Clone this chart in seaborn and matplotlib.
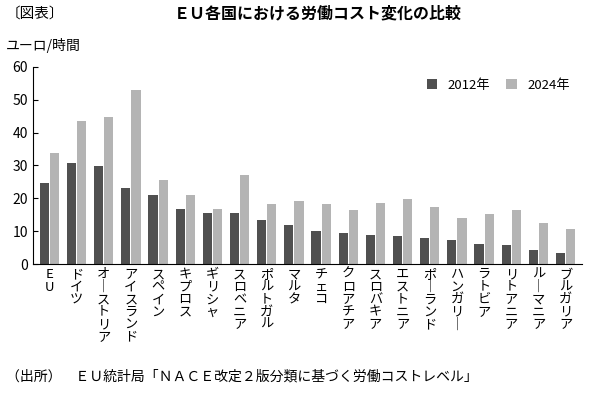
import matplotlib
matplotlib.use("Agg")
import matplotlib.pyplot as plt
import seaborn as sns
import pandas as pd

countries = ["EU","ドイツ","オーストリア","アイスランド","スペイン","キプロス","ギリシャ","スロベニア",
             "ポルトガル","マルタ","チェコ","クロアチア","スロバキア","エストニア","ポーランド",
             "ハンガリー","ラトビア","リトアニア","ルーマニア","ブルガリア"]
v2012 = [24.7,30.8,29.9,23.2,21.0,16.8,15.5,15.5,13.4,11.9,10.1,9.5,8.8,8.5,7.9,7.3,6.1,5.8,4.3,3.4]
v2024 = [33.8,43.6,44.8,53.0,25.6,21.0,16.8,27.1,18.3,19.2,18.3,16.5,18.6,19.8,17.4,14.0,15.2,16.5,12.5,10.7]
series = ["2012年","2024年"]
yticks = [0,10,20,30,40,50,60]

plt.rcParams["font.family"] = "Noto Sans CJK JP"
df = pd.DataFrame({"country": countries*2, "value": v2012+v2024,
                   "year": [series[0]]*len(countries)+[series[1]]*len(countries)})

fig = plt.figure(figsize=(6,4), dpi=100)
ax = fig.add_axes([0.055, 0.34, 0.915, 0.493])
sns.barplot(data=df, x="country", y="value", hue="year", palette=["#505050","#b4b4b4"],
            ax=ax, width=0.75, gap=0.1, saturation=1)
ax.set_ylim(0,60)
ax.set_yticks(yticks)
ax.set_xlim(-0.6, len(countries)-0.4)
ax.set_xticks(range(len(countries)))
def vert(s):
    return "\n".join("｜" if ch == "ー" else ch for ch in s)
ax.set_xticklabels([vert(c) for c in countries], fontsize=9.5, linespacing=0.95, va="top")
ax.tick_params(axis="x", length=0, pad=3)
ax.tick_params(axis="y", direction="in", labelsize=10)
ax.set_xlabel(""); ax.set_ylabel("")
for s in ["top","right"]:
    ax.spines[s].set_visible(False)
ax.legend(title=None, frameon=False, loc="upper right", fontsize=9.5, handlelength=0.8,
          ncol=2, columnspacing=1.2, bbox_to_anchor=(1.0, 1.0))
fig.text(0.01, 0.955, "〔図表〕", fontsize=10.5)
fig.text(0.53, 0.955, "ＥＵ各国における労働コスト変化の比較", fontsize=11.5, ha="center", weight="bold")
fig.text(0.01, 0.875, "ユーロ/時間", fontsize=10)
fig.text(0.01, 0.05, "（出所）　ＥＵ統計局「ＮＡＣＥ改定２版分類に基づく労働コストレベル」", fontsize=10)
fig.savefig("out.png", dpi=100)
